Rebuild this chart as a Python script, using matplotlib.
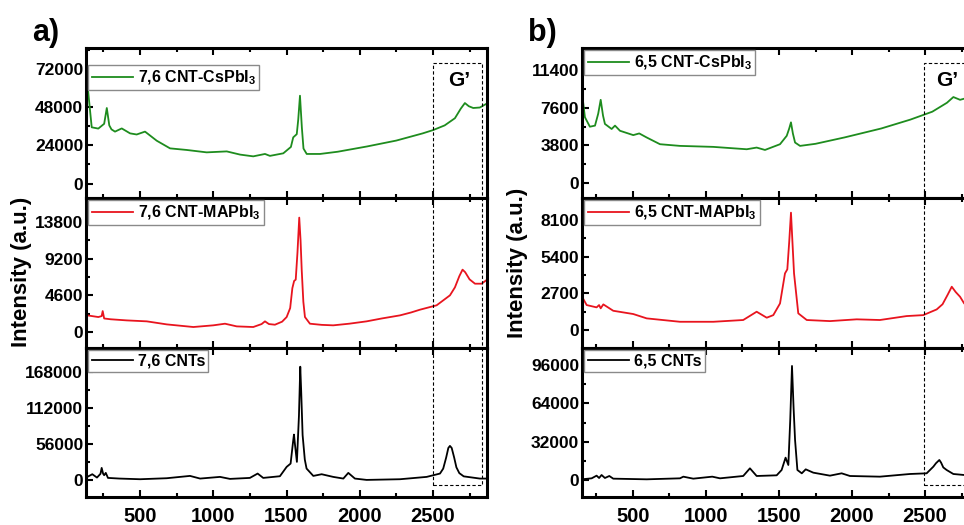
import matplotlib
matplotlib.use("Agg")
import matplotlib.pyplot as plt
from matplotlib.patches import Rectangle
from matplotlib.ticker import MultipleLocator, AutoMinorLocator
from matplotlib.transforms import blended_transform_factory

plt.rcParams['font.family'] = ['Liberation Sans', 'DejaVu Sans']
plt.rcParams['font.weight'] = 'bold'
plt.rcParams['mathtext.fontset'] = 'custom'
plt.rcParams['mathtext.rm'] = 'Liberation Sans:bold'
plt.rcParams['mathtext.bf'] = 'Liberation Sans:bold'

# ---- panel a) : 7,6 tubes ----
a_cs_x = [140, 170, 215, 255, 273, 290, 305, 329, 375, 432, 477, 534, 614, 705, 819, 955, 1092, 1183, 1273, 1353, 1387,
          1478, 1530, 1546, 1570, 1580, 1592, 1605, 1616, 1638, 1729, 1850, 2050, 2250, 2430, 2502, 2580, 2650,
          2690, 2718, 2745, 2775, 2820, 2870]
a_cs_y = [63000, 35300, 34500, 37500, 47400, 36500, 34000, 32600, 34600, 31500, 30800, 32600, 26900, 22100, 21100,
          19600, 20200, 18200, 17100, 18600, 17400, 19000, 23000, 29000, 31000, 40000, 55100, 35000, 22000, 18600,
          18600, 20000, 23300, 27000, 31500, 33600, 36500, 41000, 47000, 50500, 48500, 47400, 47700, 50300]

a_ma_x = [140, 215, 238, 245, 255, 300, 409, 546, 682, 864, 1000, 1080, 1160, 1273, 1330, 1353, 1380, 1421, 1470, 1501,
          1525, 1540, 1552, 1563, 1575, 1587, 1596, 1604, 1615, 1626, 1660, 1740, 1819, 1930, 2047, 2150, 2275, 2350,
          2411, 2525, 2616, 2650, 2680, 2702, 2720, 2750, 2787, 2832, 2870]
a_ma_y = [2090, 1880, 2000, 2630, 1700, 1600, 1460, 1340, 960, 630, 840, 1045, 710, 630, 1000, 1340, 1000, 920, 1300,
          1880, 3000, 5500, 6400, 6570, 10000, 14340, 11500, 7740, 3800, 1880, 1045, 900, 840, 1050, 1340, 1700,
          2090, 2450, 2800, 3350, 4600, 5600, 7000, 7820, 7500, 6600, 6060, 6060, 6570]

a_cnt_x = [140, 174, 206, 230, 238, 248, 255, 266, 281, 360, 500, 682, 841, 910, 1046, 1114, 1250, 1303, 1341, 1455,
           1501, 1528, 1545, 1551, 1558, 1571, 1585, 1594, 1600, 1610, 1625, 1637, 1683, 1740, 1819, 1888, 1922,
           1967, 2047, 2275, 2457, 2548, 2570, 2590, 2605, 2616, 2628, 2645, 2660, 2680, 2710, 2820, 2870]
a_cnt_y = [5170, 9300, 4140, 10000, 19100, 10000, 7750, 11400, 3600, 2580, 1550, 3100, 6700, 2580, 5170, 2070, 3600,
           10340, 3600, 6200, 20700, 25800, 60000, 70800, 55000, 28400, 100000, 176000, 140000, 70000, 32000, 18100,
           6700, 9300, 5170, 2580, 11370, 2580, 500, 1550, 5170, 10340, 18000, 35000, 50000, 53200, 50000, 35000,
           20000, 11000, 6000, 2580, 2580]

# ---- panel b) : 6,5 tubes ----
b_cs_x = [149, 171, 205, 240, 262, 279, 295, 308, 354, 377, 411, 502, 543, 594, 685, 822, 1050, 1279, 1347, 1404,
          1507, 1553, 1570, 1582, 1595, 1610, 1644, 1750, 1950, 2200, 2400, 2550, 2650, 2694, 2740, 2790, 2840, 2900]
b_cs_y = [9360, 6640, 5680, 5790, 7000, 8400, 6800, 5960, 5450, 5790, 5270, 4830, 5000, 4590, 3910, 3740, 3640, 3400,
          3570, 3330, 3910, 4760, 5500, 6120, 5000, 4080, 3740, 3950, 4600, 5500, 6400, 7200, 8100, 8680, 8400,
          8600, 8500, 8400]

b_ma_x = [149, 183, 251, 268, 279, 297, 365, 502, 594, 822, 1050, 1255, 1347, 1416, 1461, 1507, 1541, 1557, 1570,
          1582, 1592, 1603, 1632, 1690, 1849, 2032, 2191, 2374, 2488, 2580, 2620, 2655, 2683, 2710, 2740, 2768,
          2830, 2900]
b_ma_y = [2500, 1840, 1670, 1840, 1600, 1890, 1420, 1180, 860, 610, 610, 740, 1350, 910, 1100, 1960, 4170, 4470,
          6500, 8640, 6500, 4170, 1230, 740, 660, 790, 740, 1030, 1100, 1520, 1900, 2600, 3190, 2800, 2450, 1960,
          1500, 1300]

b_cnt_x = [149, 217, 251, 268, 285, 308, 338, 365, 594, 822, 845, 913, 1043, 1096, 1255, 1301, 1347, 1484, 1518,
           1545, 1564, 1577, 1589, 1600, 1610, 1626, 1656, 1683, 1735, 1849, 1929, 1986, 2191, 2397, 2511, 2557,
           2575, 2598, 2610, 2625, 2648, 2694, 2768, 2830, 2900]
b_cnt_y = [560, 1390, 3620, 1670, 4170, 1670, 3340, 1110, 560, 1390, 2780, 1110, 2780, 1390, 3340, 9740, 3340, 3900,
           8350, 18640, 12520, 50000, 95200, 60000, 33400, 8350, 5570, 8900, 6120, 3620, 5570, 3340, 2780, 5010,
           5570, 11130, 14000, 16700, 14500, 10500, 8350, 5010, 4170, 3800, 3500]

a_labels = ['7,6 CNT-CsPbI$_3$', '7,6 CNT-MAPbI$_3$', '7,6 CNTs']
b_labels = ['6,5 CNT-CsPbI$_3$', '6,5 CNT-MAPbI$_3$', '6,5 CNTs']
a_yticks = [[0, 24000, 48000, 72000], [0, 4600, 9200, 13800], [0, 56000, 112000, 168000]]
b_yticks = [[0, 3800, 7600, 11400], [0, 2700, 5400, 8100], [0, 32000, 64000, 96000]]
a_ylims = [(-9000, 85000), (-2000, 16800), (-26000, 205000)]
b_ylims = [(-1530, 13640), (-1320, 9720), (-14200, 110200)]
colors = ['#1e8c1e', '#e8141e', 'black']

W, H = 964, 525
fig = plt.figure(figsize=(W / 100, H / 100), dpi=100)

def px(x0, y_top, w, h):
    return [x0 / W, 1 - (y_top + h) / H, w / W, h / H]

def make_panel(left, xlim, curves, labels, yticks, ylims, legend_tops):
    axes = []
    tops = [48, 198, 348]
    for i in range(3):
        ax = fig.add_axes(px(left, tops[i], 401, 150 if i < 2 else 149))
        x, y = curves[i]
        ax.plot(x, y, color=colors[i], lw=1.3, label=labels[i])
        ax.set_xlim(*xlim)
        ax.set_ylim(*ylims[i])
        ax.set_yticks(yticks[i])
        ax.yaxis.set_minor_locator(AutoMinorLocator(2))
        ax.xaxis.set_major_locator(MultipleLocator(500))
        ax.xaxis.set_minor_locator(MultipleLocator(250))
        ax.tick_params(which='both', direction='in', top=True, width=1.5)
        ax.tick_params(which='major', length=5)
        ax.tick_params(which='minor', length=3)
        ax.tick_params(axis='y', labelsize=12.5, pad=2)
        ax.tick_params(axis='x', labelsize=14.5, pad=7)
        if i < 2:
            ax.tick_params(axis='x', labelbottom=False)
        for s in ax.spines.values():
            s.set_linewidth(2.2)
        ax.legend(loc='upper left', bbox_to_anchor=(0.0, legend_tops[i]), fontsize=11.5, frameon=True,
                  fancybox=False, edgecolor='#8a8a8a', framealpha=1, borderpad=0.2, handlelength=2.6,
                  handletextpad=0.3, borderaxespad=0.15)
        axes.append(ax)
    return axes

ax_a = make_panel(86, (131, 2869), [(a_cs_x, a_cs_y), (a_ma_x, a_ma_y), (a_cnt_x, a_cnt_y)],
                  a_labels, a_yticks, a_ylims, [0.9, 1.0, 1.0])
ax_b = make_panel(582, (151, 2897), [(b_cs_x, b_cs_y), (b_ma_x, b_ma_y), (b_cnt_x, b_cnt_y)],
                  b_labels, b_yticks, b_ylims, [1.0, 1.0, 1.0])

# dashed G' boxes
for axs, x0, x1, xt in [(ax_a, 2500, 2834, 2677), (ax_b, 2495, 2840, 2650)]:
    tr = blended_transform_factory(axs[2].transData, fig.transFigure)
    y0 = 1 - 485 / H
    y1 = 1 - 63 / H
    fig.add_artist(Rectangle((x0, y0), x1 - x0, y1 - y0, transform=tr, fill=False,
                             ls=(0, (3, 2)), lw=0.8, color='black', clip_on=False))
    fig.text(xt, 1 - 80 / H, "G\u2019", transform=tr, ha='center', va='center', fontsize=15, fontweight='bold')

fig.text(22 / W, 1 - 272 / H, 'Intensity (a.u.)', rotation=90, ha='center', va='center', fontsize=16)
fig.text(518 / W, 1 - 263 / H, 'Intensity (a.u.)', rotation=90, ha='center', va='center', fontsize=16)
fig.text(32 / W, 1 - 33 / H, 'a)', ha='left', va='center', fontsize=22)
fig.text(528 / W, 1 - 33 / H, 'b)', ha='left', va='center', fontsize=22)

fig.savefig('out.png', dpi=100)
